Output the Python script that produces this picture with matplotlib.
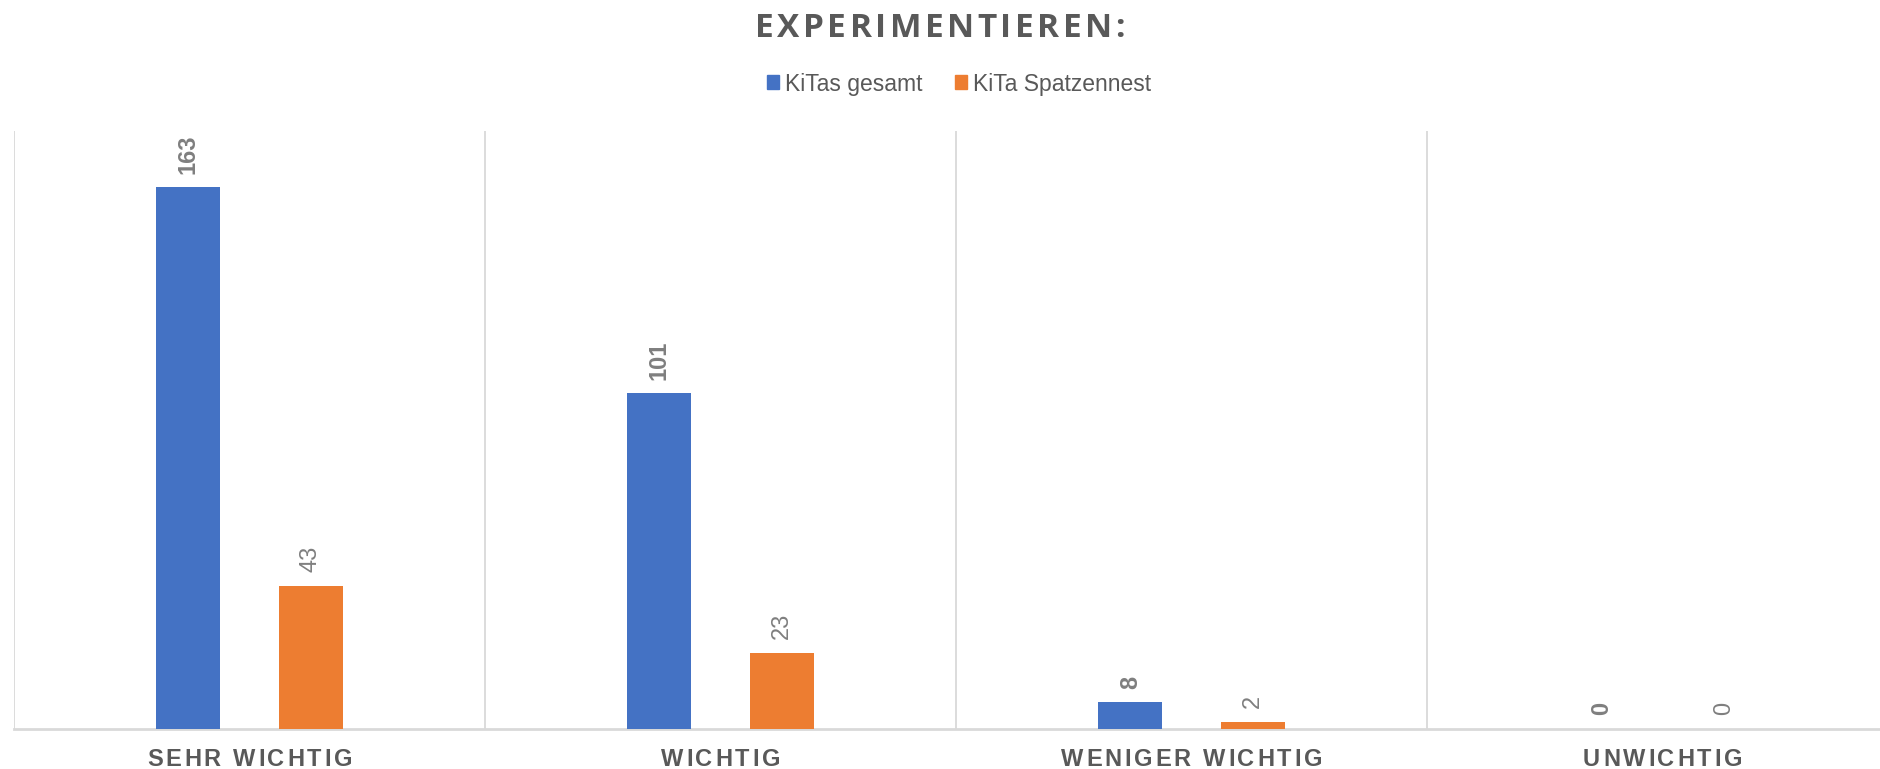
import matplotlib
matplotlib.use("Agg")
import matplotlib.pyplot as plt
from matplotlib.patches import Patch
from matplotlib.textpath import TextToPath
from matplotlib.font_manager import FontProperties
import numpy as np

categories = ["SEHR WICHTIG", "WICHTIG", "WENIGER WICHTIG", "UNWICHTIG"]
series_names = ["KiTas gesamt", "KiTa Spatzennest"]
gesamt = [163, 101, 8, 0]
spatzennest = [43, 23, 2, 0]
title = "EXPERIMENTIEREN:"

BLUE = "#4472c4"
ORANGE = "#ed7d31"
TEXT = "#595959"
LABEL = "#7f7f7f"
GRID = "#d9d9d9"

W, H, DPI = 1880, 769, 100
fig = plt.figure(figsize=(W / DPI, H / DPI), dpi=DPI)

# plot area: left 14px, baseline at 729px, top at 131px, 4 categories of ~471px
ax = fig.add_axes([14 / W, 1 - 729 / H, 4 * 471 / W, (729 - 131) / H])
x = np.arange(len(categories))
bw = 0.136
off = 0.13
ax.bar(x - off, gesamt, bw, color=BLUE, zorder=3)
ax.bar(x + off, spatzennest, bw, color=ORANGE, zorder=3)
ax.set_xlim(-0.5, len(categories) - 0.5)
ax.set_ylim(0, 180)

for xi, v in zip(x, gesamt):
    ax.annotate(str(v), (xi - off, v), xytext=(0, 10), textcoords="offset points",
                rotation=90, ha="center", va="bottom", fontsize=17,
                fontweight="bold", color=LABEL, family="Liberation Sans")
for xi, v in zip(x, spatzennest):
    ax.annotate(str(v), (xi + off, v), xytext=(0, 10), textcoords="offset points",
                rotation=90, ha="center", va="bottom", fontsize=17,
                color=LABEL, family="Liberation Sans")

# separators between categories
ax.set_xticks(np.arange(-0.5, len(categories), 1.0), minor=True)
ax.grid(True, axis="x", which="minor", color=GRID, lw=1.3, zorder=0)
ax.set_xticks([])
ax.set_yticks([])
for s in ["top", "right", "left"]:
    ax.spines[s].set_visible(False)
ax.spines["bottom"].set_color(GRID)
ax.spines["bottom"].set_linewidth(2)
ax.tick_params(which="both", length=0)

ttp = TextToPath()


def text_w(s, prop):
    w, _, _ = ttp.get_text_width_height_descent(s, prop, ismath=False)
    return w * DPI / 72.0


def spaced(s, cx, base_y, prop, spacing=None, width=None, **kw):
    # letter-spaced text, centred on cx, baseline at base_y (pixels from top)
    natural = text_w(s, prop)
    if width is not None:
        spacing = (width - natural) / (len(s) - 1)
    total = natural + spacing * (len(s) - 1)
    x0 = cx - total / 2
    for i, ch in enumerate(s):
        if ch == " ":
            continue
        px = x0 + text_w(s[:i], prop) + i * spacing
        fig.text(px / W, 1 - base_y / H, ch, fontproperties=prop, ha="left",
                 va="baseline", **kw)


title_prop = FontProperties(family="Open Sans", weight="bold", size=24)
spaced(title, 940, 37, title_prop, width=370, color=TEXT)

cat_prop = FontProperties(family="Liberation Sans", weight="bold", size=17)
for i, c in enumerate(categories):
    cx = 14 + 471 * (i + 0.5)
    spaced(c, cx, 766, cat_prop, spacing=2.8, color=TEXT)

handles = [Patch(color=BLUE), Patch(color=ORANGE)]
fig.legend(handles, series_names, loc="center", bbox_to_anchor=(959 / W, 1 - 84 / H),
           ncol=2, frameon=False, handlelength=0.55, handleheight=0.55,
           handletextpad=0.25, columnspacing=1.4,
           prop=FontProperties(family="Liberation Sans", size=16.5),
           labelcolor=TEXT)

fig.savefig("out.png", dpi=DPI)
